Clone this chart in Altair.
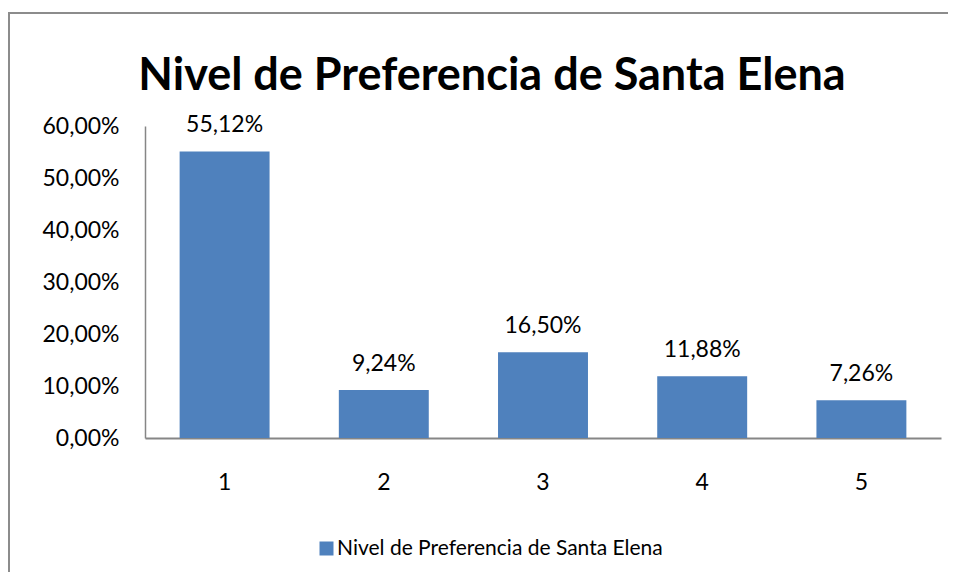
import altair as alt
import pandas as pd

categories = ["1", "2", "3", "4", "5"]
values = [0.5512, 0.0924, 0.1650, 0.1188, 0.0726]
value_labels = ["55,12%", "9,24%", "16,50%", "11,88%", "7,26%"]
series_name = "Nivel de Preferencia de Santa Elena"
chart_title = "Nivel de Preferencia de Santa Elena"
y_ticks = [0, 0.1, 0.2, 0.3, 0.4, 0.5, 0.6]

FONT = "Lato"
BLUE = "#4F81BD"
GRAY = "#868686"
FS = 23

df = pd.DataFrame({
    "cat": categories,
    "val": values,
    "lab": value_labels,
    "serie": [series_name] * len(categories),
})

base = alt.Chart(df)

bars = base.mark_bar().encode(
    x=alt.X("cat:N", sort=categories,
            scale=alt.Scale(paddingInner=0.435, paddingOuter=0.2175),
            axis=alt.Axis(title=None, labelAngle=0, ticks=False, labelPadding=33,
                          labelFontSize=FS, labelFont=FONT, labelColor="#000000",
                          domainColor=GRAY, domainWidth=2)),
    y=alt.Y("val:Q", scale=alt.Scale(domain=[0, 0.6], nice=False),
            axis=alt.Axis(title=None, values=y_ticks, grid=False, ticks=False,
                          labelExpr="replace(format(datum.value, '.2%'), '.', ',')",
                          labelPadding=26, labelFontSize=FS, labelFont=FONT,
                          labelColor="#000000", domainColor=GRAY, domainWidth=1.5)),
    color=alt.Color("serie:N", scale=alt.Scale(range=[BLUE]),
                    legend=alt.Legend(title=None, orient="none", legendX=171, legendY=412,
                                      symbolType="square", symbolSize=196,
                                      symbolStrokeWidth=0, labelFontSize=21,
                                      labelFont=FONT, labelColor="#000000",
                                      labelOffset=0, labelLimit=0)),
)

texts = base.mark_text(baseline="alphabetic", dy=-19, fontSize=FS, font=FONT,
                       color="#000000").encode(
    x=alt.X("cat:N", sort=categories),
    y=alt.Y("val:Q"),
    text="lab:N",
)

one = alt.Chart(pd.DataFrame({"t": [chart_title]}))

border_top = one.mark_rule(color="#8C8C8C", strokeWidth=2).encode(
    x=alt.value(-137), x2=alt.value(900), y=alt.value(-113)
)
border_left = one.mark_rule(color="#8C8C8C", strokeWidth=2).encode(
    x=alt.value(-136), y=alt.value(-114), y2=alt.value(500)
)

title = one.mark_text(
    font=FONT, fontSize=45, fontWeight="bold", color="#000000",
    align="center", baseline="alphabetic"
).encode(
    x=alt.value(347), y=alt.value(-36), text="t:N"
)

chart = alt.layer(border_top, border_left, title, bars, texts).properties(
    width=796,
    height=312,
    autosize=alt.AutoSizeParams(type="none"),
    padding={"left": 137, "top": 118, "right": 7, "bottom": 134},
).configure_view(stroke=None)

chart.save("out.html", embed_options={"renderer": "svg", "actions": False})
